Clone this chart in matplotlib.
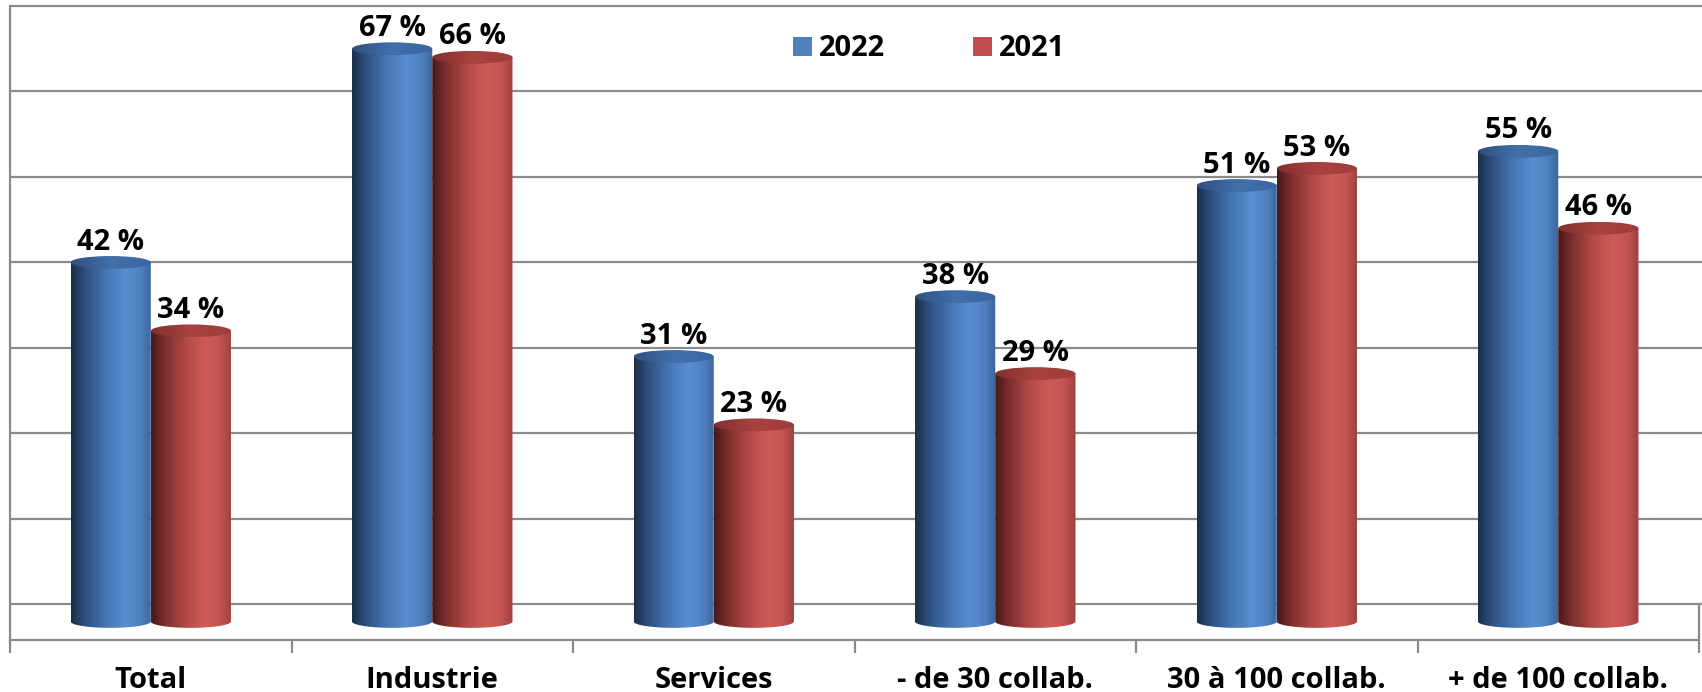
import numpy as np
import matplotlib.pyplot as plt
from matplotlib.colors import LinearSegmentedColormap
from matplotlib.patches import Ellipse, PathPatch, Patch
from matplotlib.path import Path

plt.rcParams['font.family'] = ['Open Sans', 'DejaVu Sans']
plt.rcParams['font.weight'] = 'bold'

categories = ["Total", "Industrie", "Services", "- de 30 collab.",
              "30 à 100 collab.", "+ de 100 collab."]
years = ["2022", "2021"]
v2022 = [42, 67, 31, 38, 51, 55]
v2021 = [34, 66, 23, 29, 53, 46]
grid_values = np.arange(0, 80, 10)

# shading across each cylinder, dark edge on the left, highlight right of centre
body_blue = [(0.0, '#1b2d49'), (0.15, '#2d4c7a'), (0.45, '#4878b9'),
             (0.68, '#5a8ed2'), (0.86, '#4f80c0'), (1.0, '#3a649b')]
body_red = [(0.0, '#461818'), (0.15, '#772c2b'), (0.45, '#b64b49'),
            (0.68, '#d05b59'), (0.86, '#c35351'), (1.0, '#9d413f')]
top_blue = [(0.0, '#2f5080'), (0.5, '#4270aa'), (1.0, '#3a64a0')]
top_red = [(0.0, '#80302f'), (0.5, '#a8423f'), (1.0, '#9d3d3b')]
legend_colors = ['#4f81bd', '#c0504d']

W, H = 1702, 692
fig = plt.figure(figsize=(W / 100, H / 100), dpi=100)
ax = fig.add_axes([10 / W, 52 / H, 1689 / W, 634 / H])

ymin, ymax = -2.17, 72.0
wall_offset = 2.0      # back wall sits a little higher than the bar bases
bw = 0.285             # bar width
b = 0.75               # half height of the cylinder ellipses
grid_col = '#8a8a8a'
fs = 21

# back wall gridlines
for g in grid_values:
    ax.plot([-0.5, 5.52], [g + wall_offset] * 2, color=grid_col, lw=1.6,
            zorder=1, clip_on=False, solid_capstyle='butt')

grad = np.linspace(0, 1, 256).reshape(1, -1)


def cylinder(xc, v, body, top):
    x0, x1 = xc - bw / 2, xc + bw / 2
    t = np.linspace(np.pi, 2 * np.pi, 60)
    arc = np.column_stack([xc + bw / 2 * np.cos(t), b * np.sin(t)])
    verts = np.vstack([[x0, v], arc, [x1, v], [x0, v]])
    clip = PathPatch(Path(verts), facecolor='none', edgecolor='none')
    ax.add_patch(clip)
    im = ax.imshow(grad, cmap=LinearSegmentedColormap.from_list('b', body),
                   extent=(x0, x1, -b, v), aspect='auto', zorder=3,
                   interpolation='bilinear')
    im.set_clip_path(clip)
    cap = Ellipse((xc, v), bw, 2 * b, facecolor='none', edgecolor='none')
    ax.add_patch(cap)
    im2 = ax.imshow(grad, cmap=LinearSegmentedColormap.from_list('t', top),
                    extent=(x0, x1, v - b, v + b), aspect='auto', zorder=4,
                    interpolation='bilinear')
    im2.set_clip_path(cap)
    ax.text(xc, v + b + 0.75, f"{v} %", ha='center', va='baseline',
            fontsize=fs, fontweight='bold', color='black', zorder=5)


for i in range(len(categories)):
    cylinder(i - bw / 2, v2022[i], body_blue, top_blue)
    cylinder(i + bw / 2, v2021[i], body_red, top_red)

# floor edge on the right
ax.plot([5.5, 5.5], [ymin, wall_offset], color=grid_col, lw=1.6, zorder=1,
        clip_on=False)

ax.set_xlim(-0.5, 5.5)
ax.set_ylim(ymin, ymax)
for s in ['top', 'right']:
    ax.spines[s].set_visible(False)
for s in ['left', 'bottom']:
    ax.spines[s].set_color(grid_col)
    ax.spines[s].set_linewidth(1.6)
ax.set_yticks([])
ax.set_xticks(np.arange(-0.5, 6, 1))
ax.set_xticklabels([])
ax.set_xticks(np.arange(len(categories)), minor=True)
ax.set_xticklabels(categories, minor=True, fontsize=fs, fontweight='bold')
ax.tick_params(axis='x', which='major', length=9, width=1.6, color=grid_col,
               direction='out')
ax.tick_params(axis='x', which='minor', length=0, pad=19)

handles = [Patch(facecolor=c, edgecolor='none') for c in legend_colors]
fig.legend(handles, years, loc='center left',
           bbox_to_anchor=(793 / W, 1 - 49 / H), ncol=2, frameon=False,
           prop={'weight': 'bold', 'size': fs},
           handlelength=0.65, handleheight=0.65, handletextpad=0.25,
           columnspacing=3.0, borderpad=0, borderaxespad=0)

fig.savefig('out.png', dpi=100, facecolor='white')
